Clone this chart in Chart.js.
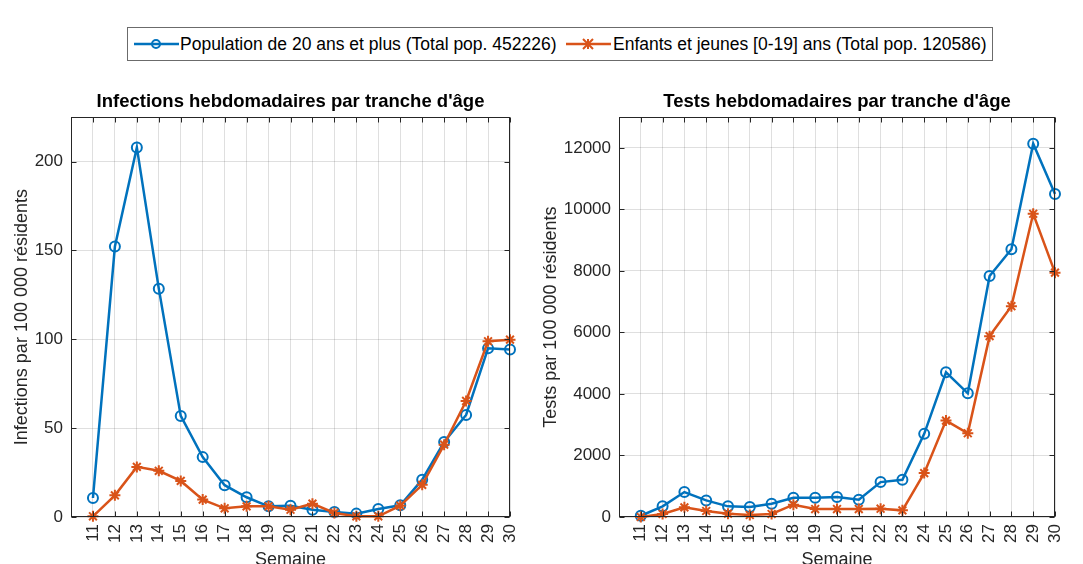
<!DOCTYPE html>
<html>
<head>
<meta charset="utf-8">
<script src="https://cdn.jsdelivr.net/npm/chart.js@4.4.1/dist/chart.umd.min.js"></script>
<style>
html, body { margin: 0; padding: 0; background: #fff; width: 1083px; height: 564px; overflow: hidden; }
canvas { position: absolute; }
#legend {
    position: absolute; left: 127px; top: 27px; width: 866px; height: 34px;
    box-sizing: border-box; border: 1px solid #6b6b6b; background: #fff;
    font-family: "Liberation Sans", Arial, sans-serif; font-size: 17.5px; color: #000;
}
#legend svg, #legend span { position: absolute; }
#legend span { top: 6px; white-space: nowrap; }
</style>
</head>
<body>
<div id="legend">
    <svg style="left:6px;top:8px" width="46" height="16">
        <line x1="0" y1="8" x2="45" y2="8" stroke="#0072BD" stroke-width="2.5"/>
        <circle cx="22" cy="8" r="4" fill="none" stroke="#0072BD" stroke-width="2"/>
    </svg>
    <span style="left:52px">Population de 20 ans et plus (Total pop. 452226)</span>
    <svg style="left:438px;top:8px" width="46" height="16">
        <line x1="0" y1="8" x2="45" y2="8" stroke="#D95319" stroke-width="2.5"/>
        <path d="M22 3 L22 13 M17 3 L27 13 M27 3 L17 13" stroke="#D95319" stroke-width="2"/>
    </svg>
    <span style="left:485px">Enfants et jeunes [0-19] ans (Total pop. 120586)</span>
</div>
<canvas id="infections" width="520" height="483" style="left:0px;top:88px"></canvas>
<canvas id="tests" width="525" height="483" style="left:540px;top:88px"></canvas>
<script>
// semaines
var weeks = [11, 12, 13, 14, 15, 16, 17, 18, 19, 20, 21, 22, 23, 24, 25, 26, 27, 28, 29, 30];

// infections par 100 000 residents
var inf_adults = [10.7, 152.2, 208, 128.5, 56.9, 33.7, 17.9, 11.1, 6, 6.3, 4.1, 2.8, 1.9, 4.5, 6.6, 21, 42.2, 57.4, 94.9, 94.2];
var inf_youth = [0.4, 12.2, 28.2, 26, 20.3, 9.8, 4.9, 6, 6, 4.1, 7.5, 2.3, 0.4, 0.4, 6.4, 18.1, 40.7, 65.3, 98.9, 99.8];

// tests par 100 000 residents
var tests_adults = [40, 346, 811, 540, 346, 324, 432, 627, 627, 649, 562, 1135, 1211, 2703, 4703, 4021, 7839, 8708, 12139, 10504];
var tests_youth = [0, 97, 313, 195, 108, 65, 97, 400, 259, 259, 259, 270, 216, 1427, 3135, 2724, 5881, 6854, 9861, 7946];

var inf_ticks = [0, 50, 100, 150, 200];
var tests_ticks = [0, 2000, 4000, 6000, 8000, 10000, 12000];

var label_adults = 'Population de 20 ans et plus (Total pop. 452226)';
var label_youth = 'Enfants et jeunes [0-19] ans (Total pop. 120586)';

var blue = '#0072BD';
var orange = '#D95319';
var axis_color = '#262626';
var grid_color = 'rgba(38,38,38,0.15)';
var font_family = '"Liberation Sans", Arial, sans-serif';

// matlab style box with inward ticks
var boxPlugin = {
    id: 'box',
    afterDatasetsDraw(chart) {
        var ctx = chart.ctx;
        var a = chart.chartArea;
        var L = Math.round(a.left) + 0.5, R = Math.round(a.right) - 0.5;
        var T = Math.round(a.top) + 0.5, B = Math.round(a.bottom) - 0.5;
        ctx.save();
        ctx.strokeStyle = axis_color;
        ctx.lineWidth = 1;
        ctx.strokeRect(L, T, R - L, B - T);
        ctx.beginPath();
        chart.scales.x.ticks.forEach(function (t) {
            var px = Math.round(chart.scales.x.getPixelForValue(t.value)) + 0.5;
            ctx.moveTo(px, B); ctx.lineTo(px, B - 5);
            ctx.moveTo(px, T); ctx.lineTo(px, T + 5);
        });
        chart.scales.y.ticks.forEach(function (t) {
            var py = Math.round(chart.scales.y.getPixelForValue(t.value)) + 0.5;
            ctx.moveTo(L, py); ctx.lineTo(L + 5, py);
            ctx.moveTo(R, py); ctx.lineTo(R - 5, py);
        });
        ctx.stroke();
        ctx.restore();
    }
};

function points(values) {
    return weeks.map(function (w, i) { return {x: w, y: values[i]}; });
}

function makeChart(id, title, ytitle, adults, youth, ymax, yticks, ywidth, ytitle_pad) {
    return new Chart(document.getElementById(id), {
        type: 'line',
        data: {
            datasets: [{
                label: label_adults,
                data: points(adults),
                borderColor: blue,
                borderWidth: 2.5,
                pointStyle: 'circle',
                pointRadius: 5,
                pointBorderWidth: 2,
                pointBorderColor: blue,
                pointBackgroundColor: 'rgba(0,0,0,0)',
                clip: false,
                order: 2
            }, {
                label: label_youth,
                data: points(youth),
                borderColor: orange,
                borderWidth: 2.5,
                pointStyle: 'star',
                pointRadius: 5.5,
                pointBorderWidth: 2,
                pointBorderColor: orange,
                pointBackgroundColor: orange,
                clip: false,
                order: 1
            }]
        },
        options: {
            responsive: false,
            devicePixelRatio: 1,
            animation: false,
            layout: { padding: { left: 0, right: 10, top: 0, bottom: 0 } },
            scales: {
                x: {
                    type: 'linear',
                    min: 10,
                    max: 30,
                    afterBuildTicks: function (s) { s.ticks = weeks.map(function (v) { return {value: v}; }); },
                    afterFit: function (s) { s.height = 54; s.paddingLeft = 0; s.paddingRight = 0; },
                    ticks: {
                        autoSkip: false,
                        maxRotation: 90,
                        minRotation: 90,
                        padding: 7,
                        color: axis_color,
                        font: { family: font_family, size: 17 }
                    },
                    grid: { color: grid_color, drawTicks: false, tickLength: 0 },
                    border: { display: false },
                    title: {
                        display: true,
                        text: 'Semaine',
                        color: axis_color,
                        font: { family: font_family, size: 18 },
                        padding: { top: 0, bottom: 0 }
                    }
                },
                y: {
                    type: 'linear',
                    min: 0,
                    max: ymax,
                    afterBuildTicks: function (s) { s.ticks = yticks.map(function (v) { return {value: v}; }); },
                    afterFit: function (s) { s.width = ywidth; s.paddingTop = 0; s.paddingBottom = 0; },
                    ticks: {
                        padding: 8,
                        color: axis_color,
                        font: { family: font_family, size: 17 },
                        callback: function (v) { return String(v); }
                    },
                    grid: { color: grid_color, drawTicks: false, tickLength: 0 },
                    border: { display: false },
                    title: {
                        display: true,
                        text: ytitle,
                        color: axis_color,
                        font: { family: font_family, size: 18 },
                        padding: { top: ytitle_pad, bottom: 0 }
                    }
                }
            },
            plugins: {
                legend: { display: false },
                tooltip: { enabled: false },
                title: {
                    display: true,
                    fullSize: false,
                    text: title,
                    color: '#000',
                    font: { family: font_family, size: 18.5, weight: 'bold' },
                    padding: { top: 3, bottom: 4 }
                }
            }
        },
        plugins: [boxPlugin]
    });
}

makeChart('infections', "Infections hebdomadaires par tranche d'âge", 'Infections par 100 000 résidents',
    inf_adults, inf_youth, 225, inf_ticks, 71, 11);
makeChart('tests', "Tests hebdomadaires par tranche d'âge", 'Tests par 100 000 résidents',
    tests_adults, tests_youth, 13000, tests_ticks, 79, 0);
</script>
</body>
</html>
